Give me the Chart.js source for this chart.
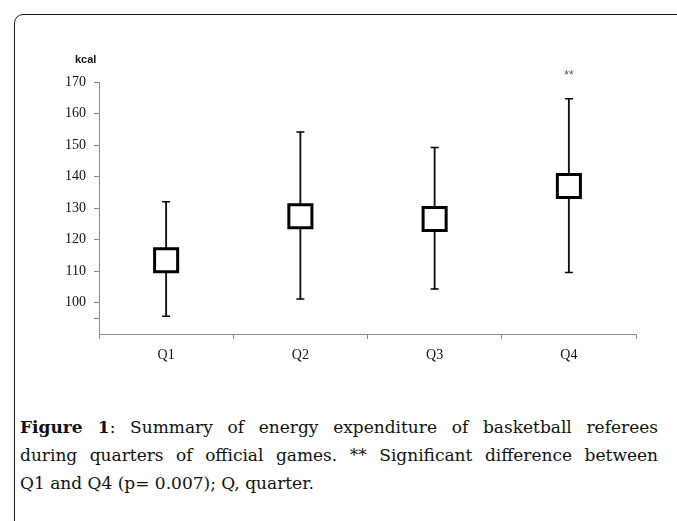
<!DOCTYPE html>
<html>
<head>
<meta charset="utf-8">
<script src="https://cdn.jsdelivr.net/npm/chart.js@4/dist/chart.umd.min.js"></script>
<style>
  body { margin: 0; background: #fff; width: 677px; height: 521px; overflow: hidden; position: relative; }
  #frame { position: absolute; left: 14px; top: 14px; width: 720px; height: 600px; border: 1.5px solid #1a1a1a; border-radius: 9px; }
  #chart { position: absolute; left: 0; top: 0; }
  #unit { position: absolute; left: 75px; top: 52px; font: bold 11px "Liberation Sans", Arial, sans-serif; line-height: 14px; color: #111; }
  #caption { position: absolute; left: 20px; top: 413px; width: 638px; font: 17px "DejaVu Serif", serif; line-height: 28px; color: #111; }
  #caption .j { text-align: justify; text-align-last: justify; white-space: nowrap; }
</style>
</head>
<body>
<div id="frame"></div>
<canvas id="chart" width="677" height="370"></canvas>
<div id="unit">kcal</div>
<div id="caption">
  <div class="j"><b>Figure 1</b>: Summary of energy expenditure of basketball referees</div>
  <div class="j">during quarters of official games. ** Significant difference between</div>
  <div>Q1 and Q4 (p= 0.007); Q, quarter.</div>
</div>
<script>
// valores (kcal)
const quartos = ["Q1", "Q2", "Q3", "Q4"];
const medias = [113.4, 127.4, 126.5, 137.0];
const minimos = [95.6, 101.1, 104.3, 109.5];
const maximos = [132.0, 154.1, 149.2, 164.7];
const marcas = ["", "", "", "**"];
const yTicks = [95, 100, 110, 120, 130, 140, 150, 160, 170];

const ctx = document.getElementById("chart").getContext("2d");

// asteriscos acima do bigode
const marcaPlugin = {
  id: "marcas",
  afterDatasetsDraw(chart) {
    const x = chart.scales.x, y = chart.scales.y;
    const c = chart.ctx;
    c.save();
    c.font = "12px 'Liberation Sans', sans-serif";
    c.fillStyle = "#555";
    c.textAlign = "center";
    c.textBaseline = "middle";
    marcas.forEach((m, i) => {
      if (!m) return;
      c.fillText(m, x.getPixelForValue(i), y.getPixelForValue(maximos[i]) - 23);
    });
    c.restore();
  }
};

new Chart(ctx, {
  type: "bar",
  data: {
    labels: quartos,
    datasets: [
      {
        type: "line",
        data: medias,
        showLine: false,
        pointStyle: "rect",
        pointRadius: 16.3,
        pointBackgroundColor: "#fff",
        pointBorderColor: "#000",
        pointBorderWidth: 3,
        order: 1
      },
      {
        type: "line",
        data: maximos,
        showLine: false,
        pointStyle: "line",
        pointRadius: 4,
        pointBorderColor: "#000",
        pointBorderWidth: 1.5,
        order: 2
      },
      {
        type: "line",
        data: minimos,
        showLine: false,
        pointStyle: "line",
        pointRadius: 4,
        pointBorderColor: "#000",
        pointBorderWidth: 1.5,
        order: 2
      },
      {
        type: "bar",
        data: minimos.map((v, i) => [v, maximos[i]]),
        backgroundColor: "#111",
        borderWidth: 0,
        barThickness: 1.2,
        order: 3
      }
    ]
  },
  options: {
    responsive: false,
    animation: false,
    devicePixelRatio: 1,
    layout: { padding: { left: 0, top: 82, right: 41, bottom: 0 } },
    plugins: { legend: { display: false }, tooltip: { enabled: false } },
    scales: {
      x: {
        grid: { offset: true, drawOnChartArea: false, tickLength: 5, color: "#888" },
        border: { color: "#888" },
        ticks: { padding: 8, color: "#111", font: { family: "Liberation Serif", size: 14 } },
        afterFit(s) { s.height = 36; s.paddingLeft = 0; s.paddingRight = 0; }
      },
      y: {
        min: 90,
        max: 170,
        grid: { drawOnChartArea: false, tickLength: 5, color: "#888" },
        border: { color: "#888" },
        ticks: {
          padding: 8,
          color: "#111",
          font: { family: "Liberation Serif", size: 14 },
          callback: (v) => (v === 95 ? "" : v)
        },
        afterBuildTicks(s) { s.ticks = yTicks.map((v) => ({ value: v })); },
        afterFit(s) { s.width = 99; s.paddingTop = 0; s.paddingBottom = 0; }
      }
    }
  },
  plugins: [marcaPlugin]
});
</script>
</body>
</html>
